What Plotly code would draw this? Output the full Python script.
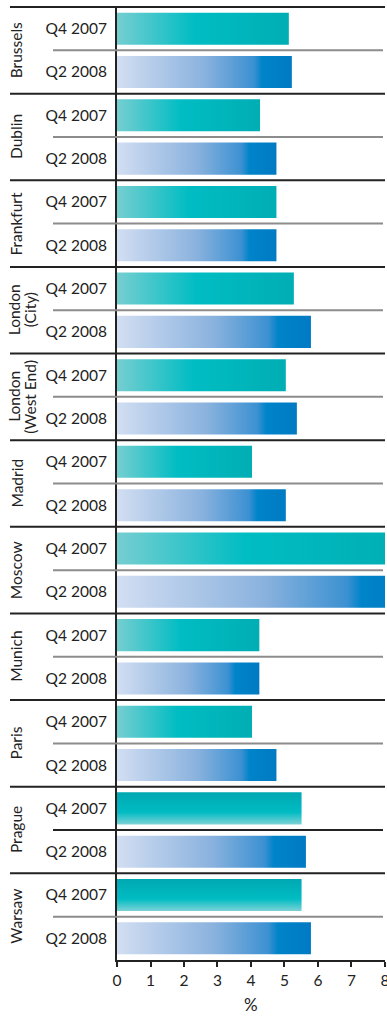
import plotly.graph_objects as go

# ---- data ----
cities = ["Brussels", "Dublin", "Frankfurt", "London<br>(City)", "London<br>(West End)",
          "Madrid", "Moscow", "Munich", "Paris", "Prague", "Warsaw"]
periods = ["Q4 2007", "Q2 2008"]
q4_2007 = [5.13, 4.27, 4.76, 5.28, 5.04, 4.03, 8.5, 4.25, 4.03, 5.51, 5.51]
q2_2008 = [5.22, 4.76, 4.76, 5.79, 5.37, 5.04, 8.8, 4.25, 4.76, 5.64, 5.79]
x_ticks = [0, 1, 2, 3, 4, 5, 6, 7, 8]
x_title = "%"

# ---- styles ----
W, H = 387, 1017
ML, MR, MT, MB = 117, 2, 7, 57
PW = W - ML - MR
PH = H - MT - MB
FONT = "Lato"
TXT = "#222222"
DARK = "#222222"
GREY = "#8c8c8c"
HALF = 0.37
FS = 15.5

teal_h = [[0, "rgb(118,206,209)"], [0.45, "rgb(0,189,195)"], [1, "rgb(0,174,180)"]]
teal_v = [[0, "rgb(125,210,214)"], [0.38, "rgb(0,188,195)"], [1, "rgb(0,168,178)"]]
blue_h = [[0, "rgb(210,222,242)"], [0.5, "rgb(138,178,222)"], [0.78, "rgb(60,145,210)"],
          [0.83, "rgb(0,132,201)"], [1, "rgb(0,122,195)"]]
vertical_q4 = {"Prague", "Warsaw"}

n = len(cities) * len(periods)
fig = go.Figure()


def bar(val, yc, grad):
    return go.Scatter(
        x=[0, val, val, 0, 0],
        y=[yc - HALF, yc - HALF, yc + HALF, yc + HALF, yc - HALF],
        mode="lines", line=dict(width=0), fill="toself",
        fillgradient=grad, hoverinfo="skip", showlegend=False,
    )


tickvals, ticktext = [], []
for k, city in enumerate(cities):
    y4 = n - 1 - 2 * k
    y2 = y4 - 1
    if city in vertical_q4:
        g4 = dict(type="vertical", colorscale=teal_v)
    else:
        g4 = dict(type="horizontal", colorscale=teal_h)
    fig.add_trace(bar(q4_2007[k], y4, g4))
    fig.add_trace(bar(q2_2008[k], y2, dict(type="horizontal", colorscale=blue_h)))
    tickvals += [y4, y2]
    ticktext += periods

    # city separator (top of group)
    ytop = y4 + 0.5
    if k == 0:
        fig.add_shape(type="line", xref="paper", yref="paper",
                      x0=(10 - ML) / PW, x1=1.0, y0=1, y1=1,
                      line=dict(color=DARK, width=2))
    else:
        fig.add_shape(type="line", xref="paper", yref="y",
                      x0=(10 - ML) / PW, x1=1.0, y0=ytop, y1=ytop,
                      line=dict(color=DARK, width=2))
    # within-group separator
    ymid = y4 - 0.5
    fig.add_shape(type="line", xref="paper", yref="y",
                  x0=(53 - ML) / PW, x1=(383 - ML) / PW, y0=ymid, y1=ymid,
                  line=dict(color=DARK if city == "Prague" else GREY, width=2))

    lines = city.split("<br>")
    centers = [16] if len(lines) == 1 else [14, 30]
    for line_txt, cx in zip(lines, centers):
        fig.add_annotation(text=line_txt, xref="paper", yref="y",
                           x=(cx - ML) / PW, y=(y4 + y2) / 2,
                           textangle=-90, xanchor="center", yanchor="middle",
                           showarrow=False,
                           font=dict(family=FONT, size=FS, color=TXT))

# x-axis title placed below tick labels
fig.add_annotation(text=x_title, xref="paper", yref="paper",
                   x=0.5, y=-(1004 - (H - MB)) / PH,
                   xanchor="center", yanchor="middle", showarrow=False,
                   font=dict(family=FONT, size=17, color=TXT))

fig.update_layout(
    width=W, height=H,
    margin=dict(l=ML, r=MR, t=MT, b=MB, pad=0),
    paper_bgcolor="white", plot_bgcolor="white",
    font=dict(family=FONT, size=FS, color=TXT),
    showlegend=False,
)
fig.update_xaxes(
    range=[0, 8.001], tickvals=x_ticks, ticktext=[str(t) for t in x_ticks],
    showgrid=False, zeroline=False,
    showline=True, linecolor=DARK, linewidth=2,
    ticks="outside", ticklen=5, tickwidth=1.5, tickcolor=DARK,
    tickfont=dict(family=FONT, size=FS, color=TXT),
    ticklabeloverflow="allow",
    automargin=False,
)
fig.update_yaxes(
    range=[-0.5, n - 0.5], tickvals=tickvals, ticktext=ticktext,
    showgrid=False, zeroline=False,
    showline=True, linecolor=DARK, linewidth=2,
    ticks="", ticklabelstandoff=5,
    tickfont=dict(family=FONT, size=FS, color=TXT),
    automargin=False,
)

fig.write_html("out.html")
